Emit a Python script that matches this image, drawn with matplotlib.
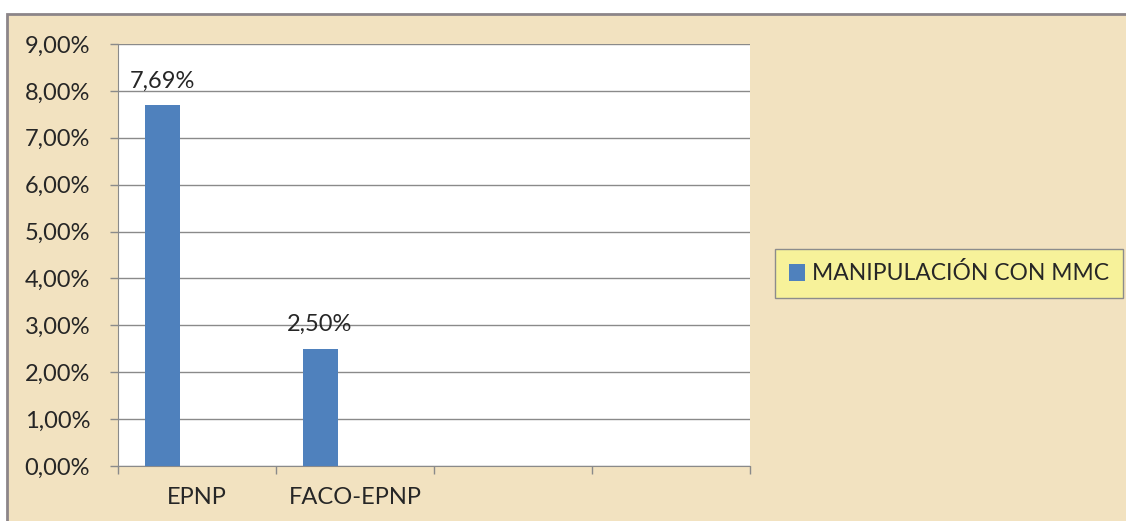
import matplotlib
matplotlib.use("Agg")
import matplotlib.pyplot as plt
from matplotlib.patches import Rectangle
import numpy as np

# chart data
categories = ["EPNP", "FACO-EPNP", "", ""]
values = [7.69, 2.50, np.nan, np.nan]
labels = ["7,69%", "2,50%", "", ""]
series_name = "MANIPULACIÓN CON MMC"
yticks = [0, 1, 2, 3, 4, 5, 6, 7, 8, 9]
ytick_labels = ["0,00%", "1,00%", "2,00%", "3,00%", "4,00%",
                "5,00%", "6,00%", "7,00%", "8,00%", "9,00%"]

BAR_COLOR = "#4F81BD"
PAPER = "#F2E2C0"
GRID = "#8A8A8A"
TXT = "#262626"

plt.rcParams['font.family'] = ['Lato', 'DejaVu Sans']

fig = plt.figure(figsize=(11.26, 5.21), dpi=100)
fig.patch.set_facecolor("white")

# parchment frame
frame = Rectangle((7 / 1126, -0.01), 1.01, (521 - 14) / 521 + 0.01,
                  transform=fig.transFigure, facecolor=PAPER,
                  edgecolor="#8C8589", lw=2, zorder=-10)
fig.patches.append(frame)

ax = fig.add_axes([118 / 1126, 55 / 521, (750 - 118) / 1126, (466 - 44) / 521])
ax.set_facecolor("white")

x = np.arange(len(categories))
bw = 0.2215
bars = ax.bar(x - bw, values, width=bw, color=BAR_COLOR, label=series_name, zorder=3)

for xi, v, lab in zip(x, values, labels):
    if lab:
        ax.text(xi - bw, v + 0.3, lab, ha="center", va="bottom",
                fontsize=17, color=TXT)

ax.set_xlim(-0.5, len(categories) - 0.5)
ax.set_ylim(0, 9)
ax.set_yticks(yticks)
ax.set_yticklabels(ytick_labels, fontsize=17, color=TXT)
ax.yaxis.grid(True, color=GRID, lw=1)
ax.set_axisbelow(True)

ax.set_xticks(x)
ax.set_xticklabels(categories, fontsize=17, color=TXT)
ax.tick_params(axis="x", which="major", length=0, pad=15)
ax.set_xticks(np.arange(-0.5, len(categories)), minor=True)
ax.tick_params(axis="x", which="minor", length=6, color=GRID, width=1)
ax.tick_params(axis="y", length=6, color=GRID, width=1, pad=14)

for side in ["top", "right"]:
    ax.spines[side].set_visible(False)
ax.spines["left"].set_color(GRID)
ax.spines["bottom"].set_color(GRID)

leg = fig.legend(handles=[bars], labels=[series_name], loc="center",
                 bbox_to_anchor=(949 / 1126, 1 - 273.5 / 521),
                 fontsize=16.5, frameon=True, fancybox=False,
                 handlelength=0.7, handleheight=0.7, handletextpad=0.3,
                 borderpad=0.6, labelcolor=TXT)
leg.get_frame().set_facecolor("#F7F29A")
leg.get_frame().set_edgecolor("#8C8C8C")
leg.get_frame().set_alpha(1)

fig.savefig("out.png", dpi=100)
